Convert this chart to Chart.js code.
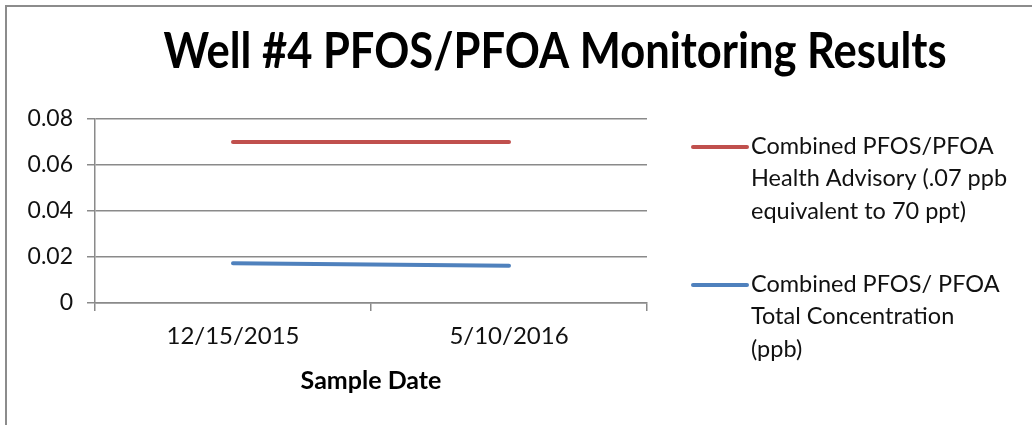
<!DOCTYPE html>
<html>
<head>
<meta charset="utf-8">
<script src="https://cdn.jsdelivr.net/npm/chart.js@4"></script>
<style>
    body { margin: 0; background: #fff; }
    #wrap { position: relative; width: 1032px; height: 425px; overflow: hidden; }
    #frame { position: absolute; left: 5px; top: 5px; right: -10px; bottom: -10px; border-top: 2px solid #8c8c8c; border-left: 2px solid #8c8c8c; }
    #chart { position: absolute; left: 0; top: 0; }
</style>
</head>
<body>
<div id="wrap">
    <div id="frame"></div>
    <canvas id="chart" width="1032" height="425"></canvas>
</div>
<script>
// data
const sampleDates = ['12/15/2015', '5/10/2016'];
const healthAdvisory = [0.07, 0.07];
const totalConcentration = [0.0173, 0.0162];
const yTicks = [0, 0.02, 0.04, 0.06, 0.08];

const chartTitle = 'Well #4 PFOS/PFOA Monitoring Results';
const advisoryLabel = ['Combined PFOS/PFOA', 'Health Advisory (.07 ppb', 'equivalent to 70 ppt)'];
const concentrationLabel = ['Combined PFOS/ PFOA', 'Total Concentration', '(ppb)'];

const RED = '#C0504D';
const BLUE = '#4F81BD';
const GRID = '#8a8a8a';
const FONT = 'Lato, "Open Sans", sans-serif';

// title spans the whole picture (centred over plot + legend), and the
// legend has wrapped text, so both are drawn here
const sideParts = {
    id: 'sideParts',
    afterDraw(chart) {
        const ctx = chart.ctx;
        ctx.save();
        // the original font is narrower than Lato, so squeeze it a little
        ctx.translate(555, 68);
        ctx.scale(0.87, 1);
        ctx.font = 'bold 50px ' + FONT;
        ctx.fillStyle = '#000';
        ctx.textAlign = 'center';
        ctx.textBaseline = 'alphabetic';
        ctx.fillText(chartTitle, 0, 0);
        ctx.restore();

        const entries = [
            { lines: advisoryLabel, color: RED, y: 147 },
            { lines: concentrationLabel, color: BLUE, y: 285 }
        ];
        ctx.save();
        ctx.font = '23.5px ' + FONT;
        ctx.fillStyle = '#111';
        ctx.textAlign = 'left';
        ctx.textBaseline = 'middle';
        entries.forEach(e => {
            ctx.strokeStyle = e.color;
            ctx.lineWidth = 4;
            ctx.lineCap = 'round';
            ctx.beginPath();
            ctx.moveTo(693, e.y);
            ctx.lineTo(747, e.y);
            ctx.stroke();
            e.lines.forEach((t, i) => ctx.fillText(t, 751, e.y - 1 + i * 32.5));
        });
        ctx.restore();
    }
};

new Chart(document.getElementById('chart'), {
    type: 'line',
    data: {
        labels: sampleDates,
        datasets: [
            {
                label: advisoryLabel.join(' '),
                data: healthAdvisory,
                borderColor: RED,
                backgroundColor: RED,
                borderWidth: 4,
                borderCapStyle: 'round',
                pointRadius: 0,
                fill: false
            },
            {
                label: concentrationLabel.join(' '),
                data: totalConcentration,
                borderColor: BLUE,
                backgroundColor: BLUE,
                borderWidth: 4,
                borderCapStyle: 'round',
                pointRadius: 0,
                fill: false
            }
        ]
    },
    options: {
        responsive: false,
        animation: false,
        layout: { padding: { left: 0, right: 385, top: 119, bottom: 0 } },
        plugins: {
            legend: { display: false },
            tooltip: { enabled: false },
            title: { display: false }
        },
        scales: {
            x: {
                offset: true,
                grid: { offset: true, drawOnChartArea: false, tickLength: 8, color: GRID, lineWidth: 1.5 },
                border: { color: GRID, width: 1.5 },
                ticks: { color: '#111', font: { family: FONT, size: 24 }, padding: 11, maxRotation: 0 },
                title: {
                    display: true,
                    text: 'Sample Date',
                    color: '#000',
                    font: { family: FONT, size: 25, weight: 'bold', lineHeight: 1.2 },
                    padding: { top: 4, bottom: 29 }
                },
                afterFit(scale) { scale.height = 122; }
            },
            y: {
                min: 0,
                max: 0.08,
                afterBuildTicks(scale) { scale.ticks = yTicks.map(v => ({ value: v })); },
                grid: { color: GRID, tickLength: 8, lineWidth: 1.5 },
                border: { color: GRID, width: 1.5 },
                ticks: {
                    color: '#111',
                    font: { family: FONT, size: 23 },
                    padding: 14,
                    callback: v => v === 0 ? '0' : v.toFixed(2)
                },
                afterFit(scale) { scale.width = 95; }
            }
        }
    },
    plugins: [sideParts]
});
</script>
</body>
</html>
